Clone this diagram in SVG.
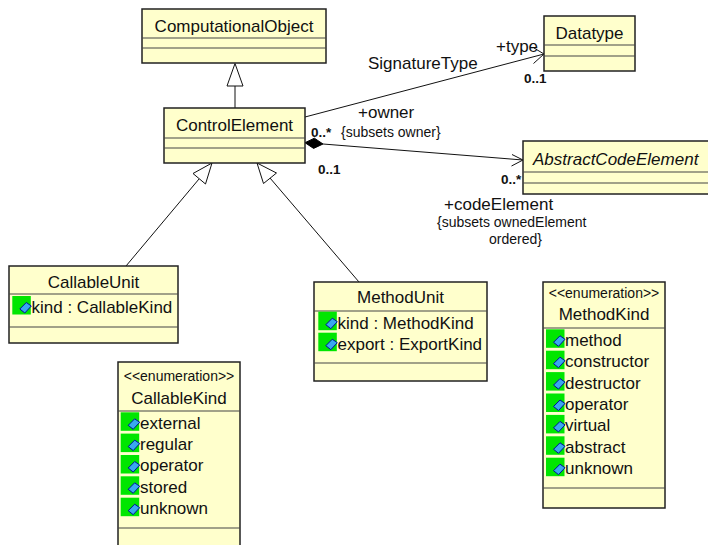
<svg xmlns="http://www.w3.org/2000/svg" width="708" height="545" viewBox="0 0 708 545">
<defs>
<style>
.box{fill:#ffffcc;stroke:#222;stroke-width:1.5}
.sep{stroke:#444;stroke-width:1.2;fill:none}
.t{font-family:"Liberation Sans",Arial,sans-serif;fill:#111}
.n{font-size:17px;text-anchor:middle}
.st{font-size:14px;text-anchor:middle}
.a{font-size:17px}
.s{font-size:14px}
.m{font-size:13.5px;font-weight:bold}
.ln{stroke:#111;stroke-width:1;fill:none}
.gen{fill:#fff;stroke:#111;stroke-width:1}
.g{fill:#00e600}
.d{fill:#39a8f0;stroke:#00109a;stroke-width:1}
</style>
<g id="icon">
<rect class="g" x="0" y="0" width="18.5" height="18.5"/>
<polygon class="d" points="7.5,13 14,6.5 19,10 12.5,17"/>
</g>
</defs>
<rect width="708" height="545" fill="#fff"/>

<g id="connectors">
<line class="ln" x1="235" y1="86" x2="235" y2="108"/>
<polygon class="gen" points="235,63.5 227,86 243,86"/>
<line class="ln" x1="199" y1="179" x2="126" y2="266"/>
<polygon class="gen" points="212,163 193,173.5 205.5,184"/>
<line class="ln" x1="270" y1="178" x2="359" y2="282"/>
<polygon class="gen" points="257,163 276.5,173 263.5,183.5"/>
<line class="ln" x1="305" y1="117" x2="544" y2="54"/>
<polyline class="ln" points="534,48 544,54 533.5,63.5"/>
<polygon fill="#000" stroke="#000" stroke-width="1" points="305,142.7 314.4,138.2 323,144 313.6,148.4"/>
<line class="ln" x1="323" y1="144" x2="523" y2="160"/>
<polyline class="ln" points="512,154.5 523,160 511.5,166"/>
<text class="t a" x="368" y="69">SignatureType</text>
<text class="t a" x="496" y="52">+type</text>
<text class="t m" x="524" y="83">0..1</text>
<text class="t a" x="358" y="118">+owner</text>
<text class="t m" x="311" y="137">0..*</text>
<text class="t s" x="341" y="137">{subsets owner}</text>
<text class="t m" x="318" y="174">0..1</text>
<text class="t m" x="501" y="184">0..*</text>
<text class="t a" x="444" y="209.5">+codeElement</text>
<text class="t s" x="437" y="227">{subsets ownedElement</text>
<text class="t s" x="489" y="244">ordered}</text>
</g>

<g id="ComputationalObject">
<rect class="box" x="142" y="9" width="184" height="54"/>
<line class="sep" x1="142" y1="38" x2="326" y2="38"/>
<line class="sep" x1="142" y1="48" x2="326" y2="48"/>
<text class="t n" x="234" y="32">ComputationalObject</text>
</g>

<g id="ControlElement">
<rect class="box" x="164" y="108" width="141" height="55"/>
<line class="sep" x1="164" y1="138" x2="305" y2="138"/>
<line class="sep" x1="164" y1="148" x2="305" y2="148"/>
<text class="t n" x="234.5" y="131">ControlElement</text>
</g>

<g id="Datatype">
<rect class="box" x="544" y="16" width="91" height="55"/>
<line class="sep" x1="544" y1="45" x2="635" y2="45"/>
<line class="sep" x1="544" y1="56" x2="635" y2="56"/>
<text class="t n" x="589.5" y="39">Datatype</text>
</g>

<g id="AbstractCodeElement">
<rect class="box" x="523" y="141" width="200" height="53"/>
<line class="sep" x1="523" y1="172" x2="723" y2="172"/>
<line class="sep" x1="523" y1="183" x2="723" y2="183"/>
<text class="t a" x="533" y="165" font-style="italic">AbstractCodeElement</text>
</g>

<g id="CallableUnit">
<rect class="box" x="9" y="266" width="169" height="77"/>
<line class="sep" x1="9" y1="294" x2="178" y2="294"/>
<line class="sep" x1="9" y1="327" x2="178" y2="327"/>
<text class="t n" x="93.5" y="288">CallableUnit</text>
<use href="#icon" x="12.3" y="296"/>
<text class="t a" x="31.5" y="313">kind : CallableKind</text>
</g>

<g id="MethodUnit">
<rect class="box" x="314" y="282" width="173" height="99"/>
<line class="sep" x1="314" y1="311" x2="487" y2="311"/>
<line class="sep" x1="314" y1="363" x2="487" y2="363"/>
<text class="t n" x="400.5" y="303">MethodUnit</text>
<use href="#icon" x="318.3" y="311.7"/>
<text class="t a" x="337.5" y="328.5">kind : MethodKind</text>
<use href="#icon" x="318.3" y="332.7"/>
<text class="t a" x="337.5" y="350">export : ExportKind</text>
</g>

<g id="CallableKind">
<rect class="box" x="118" y="362" width="122" height="200"/>
<line class="sep" x1="118" y1="411" x2="240" y2="411"/>
<line class="sep" x1="118" y1="528" x2="240" y2="528"/>
<text class="t st" x="179" y="381">&lt;&lt;enumeration&gt;&gt;</text>
<text class="t n" x="179" y="404">CallableKind</text>
<use href="#icon" x="120.7" y="412.3"/>
<text class="t a" x="140" y="428.5">external</text>
<use href="#icon" x="120.7" y="433.6"/>
<text class="t a" x="140" y="449.8">regular</text>
<use href="#icon" x="120.7" y="455"/>
<text class="t a" x="140" y="471.2">operator</text>
<use href="#icon" x="120.7" y="476.3"/>
<text class="t a" x="140" y="492.5">stored</text>
<use href="#icon" x="120.7" y="497.7"/>
<text class="t a" x="140" y="513.9">unknown</text>
</g>

<g id="MethodKind">
<rect class="box" x="543" y="282" width="122" height="226"/>
<line class="sep" x1="543" y1="328" x2="665" y2="328"/>
<line class="sep" x1="543" y1="488" x2="665" y2="488"/>
<text class="t st" x="604" y="298">&lt;&lt;enumeration&gt;&gt;</text>
<text class="t n" x="604" y="320">MethodKind</text>
<use href="#icon" x="546" y="329.3"/>
<text class="t a" x="565" y="345.7">method</text>
<use href="#icon" x="546" y="350.7"/>
<text class="t a" x="565" y="367.1">constructor</text>
<use href="#icon" x="546" y="372.1"/>
<text class="t a" x="565" y="388.5">destructor</text>
<use href="#icon" x="546" y="393.5"/>
<text class="t a" x="565" y="409.9">operator</text>
<use href="#icon" x="546" y="414.9"/>
<text class="t a" x="565" y="431.3">virtual</text>
<use href="#icon" x="546" y="436.3"/>
<text class="t a" x="565" y="452.7">abstract</text>
<use href="#icon" x="546" y="457.7"/>
<text class="t a" x="565" y="474.1">unknown</text>
</g>
</svg>
